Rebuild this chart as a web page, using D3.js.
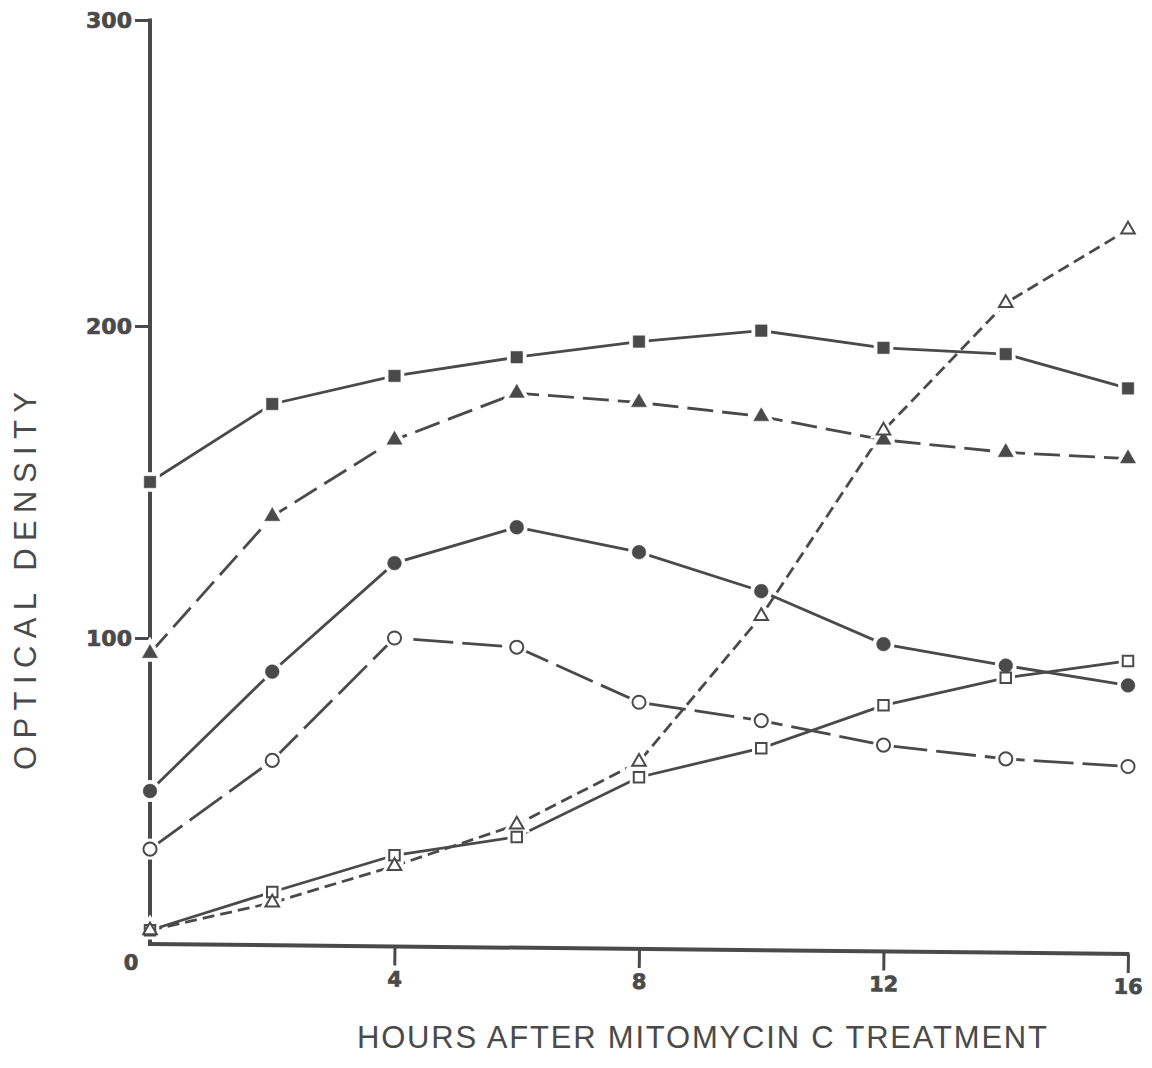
<!DOCTYPE html>
<html>
<head>
<meta charset="utf-8">
<script src="https://cdn.jsdelivr.net/npm/d3@7"></script>
<style>
  body { margin: 0; background: #fff; }
  .tick text { font-family: "DejaVu Sans", sans-serif; font-weight: bold; fill: #4a4a4a; stroke: #4a4a4a; stroke-width: 0.7px; }
  .axis-title { font-family: "Liberation Sans Narrow", "Liberation Sans", Arial, sans-serif; fill: #4a4a4a; }
</style>
</head>
<body>
<div id="chart"></div>
<script>
// data (hours after treatment, optical density)
var hours = [0, 2, 4, 6, 8, 10, 12, 14, 16];
var filledSquares = [150, 175, 184, 190, 195, 198.5, 193, 191, 180];
var filledTriangles = [95, 139, 163.5, 178.5, 175.5, 171, 163.5, 159.5, 157.5];
var filledCircles = [50, 89, 124, 135.5, 127.5, 115, 98, 91, 84.5];
var openCircles = [31, 60, 100, 97, 79, 73, 65, 60.5, 58];
var openSquares = [4.5, 17, 29, 35, 54.5, 64, 78, 87, 92.5];
var openTriangles = [4.5, 13.5, 25.5, 39, 59.5, 107, 166.5, 207.5, 231.5];

var xTicks = [4, 8, 12, 16];
var yTicks = [100, 200, 300];

var svgWidth = 1152;
var svgHeight = 1068;
var ink = "#4a4a4a";

var svg = d3.select("#chart")
  .append("svg")
  .attr("width", svgWidth)
  .attr("height", svgHeight);

// the scan is a little uneven, so the y scale is piecewise
var xScale = d3.scaleLinear().domain([0, 16]).range([150, 1128]);
var yScale = d3.scaleLinear().domain([0, 100, 200, 300]).range([944, 638, 326, 20]);

// y axis
var yAxis = svg.append("g")
  .attr("transform", "translate(150,0)")
  .call(d3.axisLeft(yScale).tickValues(yTicks).tickSize(15).tickPadding(3).tickFormat(d3.format("d")));
yAxis.select(".domain").remove();
yAxis.selectAll(".tick line").attr("stroke", ink).attr("stroke-width", 3);
yAxis.selectAll(".tick text").attr("font-size", 22);

svg.append("line")
  .attr("x1", 150).attr("x2", 150)
  .attr("y1", yScale(300) - 1.5).attr("y2", yScale(0))
  .attr("stroke", ink).attr("stroke-width", 4);

// x axis (slightly tilted like the original print)
var xAxisG = svg.append("g")
  .attr("transform", "rotate(0.58,150,944)");
var xAxis = xAxisG.append("g")
  .attr("transform", "translate(0,944)")
  .call(d3.axisBottom(xScale).tickValues(xTicks).tickSize(19).tickPadding(6).tickFormat(d3.format("d")));
xAxis.select(".domain").remove();
xAxis.selectAll(".tick line").attr("stroke", ink).attr("stroke-width", 3);
xAxis.selectAll(".tick text").attr("font-size", 21);

xAxisG.append("line")
  .attr("x1", xScale(0) - 2).attr("x2", xScale(16) + 1.5)
  .attr("y1", 944).attr("y2", 944)
  .attr("stroke", ink).attr("stroke-width", 4);

// origin label
svg.append("text")
  .attr("x", 131).attr("y", 970)
  .attr("text-anchor", "middle")
  .attr("font-family", "DejaVu Sans, sans-serif")
  .attr("font-weight", "bold")
  .attr("font-size", 21)
  .attr("fill", ink)
  .attr("stroke", ink)
  .attr("stroke-width", 0.7)
  .text("0");

// axis titles
svg.append("text")
  .attr("class", "axis-title")
  .attr("x", 357).attr("y", 1048)
  .attr("font-size", 31)
  .attr("textLength", 690)
  .attr("lengthAdjust", "spacing")
  .text("HOURS AFTER MITOMYCIN C TREATMENT");

svg.append("text")
  .attr("class", "axis-title")
  .attr("transform", "translate(36,770) rotate(-90)")
  .attr("font-size", 31)
  .attr("textLength", 378)
  .attr("lengthAdjust", "spacing")
  .text("OPTICAL DENSITY");

// series: values, line dash, marker symbol, filled or not
var series = [
  {values: filledSquares, dash: null, symbol: d3.symbolSquare, size: 135, filled: true},
  {values: filledTriangles, dash: "26,9", symbol: d3.symbolTriangle, size: 100, filled: true},
  {values: filledCircles, dash: null, symbol: d3.symbolCircle, size: 150, filled: true},
  {values: openCircles, dash: "40,9", symbol: d3.symbolCircle, size: 135, filled: false},
  {values: openSquares, dash: null, symbol: d3.symbolSquare, size: 110, filled: false},
  {values: openTriangles, dash: "12,6", symbol: d3.symbolTriangle, size: 80, filled: false}
];

var line = d3.line()
  .x(function(d, i) { return xScale(hours[i]); })
  .y(function(d) { return yScale(d); });

var linesG = svg.append("g");
series.forEach(function(s) {
  linesG.append("path")
    .datum(s.values)
    .attr("d", line)
    .attr("fill", "none")
    .attr("stroke", ink)
    .attr("stroke-width", 2.8)
    .attr("stroke-dasharray", s.dash);
});

// white halos first so lines break around the markers
var haloG = svg.append("g");
var markG = svg.append("g");
series.forEach(function(s) {
  var sym = d3.symbol().type(s.symbol).size(s.size);
  haloG.selectAll(null)
    .data(s.values)
    .enter()
    .append("path")
    .attr("d", sym)
    .attr("transform", function(d, i) { return "translate(" + xScale(hours[i]) + "," + yScale(d) + ")"; })
    .attr("fill", "#fff")
    .attr("stroke", "#fff")
    .attr("stroke-width", 8);
  markG.selectAll(null)
    .data(s.values)
    .enter()
    .append("path")
    .attr("d", sym)
    .attr("transform", function(d, i) { return "translate(" + xScale(hours[i]) + "," + yScale(d) + ")"; })
    .attr("fill", s.filled ? ink : "#fff")
    .attr("stroke", ink)
    .attr("stroke-width", s.filled ? 0.5 : 2);
});
</script>
</body>
</html>
